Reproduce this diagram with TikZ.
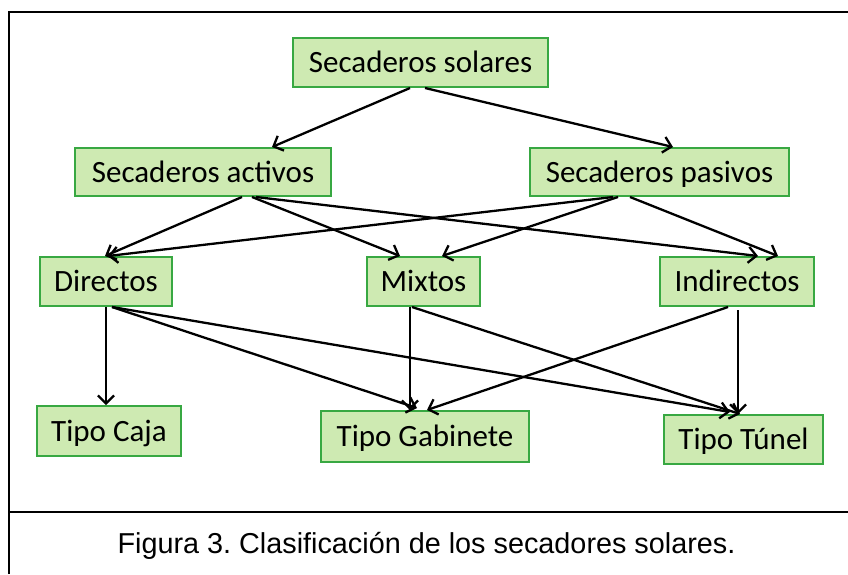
\documentclass[tikz,border=0pt]{standalone}
\usepackage{fontspec}
\setmainfont{Carlito}
\newfontfamily\capfont{Liberation Sans}
\usetikzlibrary{arrows.meta,calc}
\definecolor{boxfill}{RGB}{206,234,178}
\definecolor{boxline}{RGB}{56,168,66}
\tikzset{
  box/.style={draw=boxline, fill=boxfill, line width=2.4pt, inner sep=0pt,
    font=\fontsize{31}{31}\selectfont, text height=20pt, text depth=0pt, anchor=center},
  conn/.style={line width=2.3pt, -{Straight Barb[length=8pt,width=16pt]}},
  frame/.style={line width=2.8pt}
}
\begin{document}
\frenchspacing
\begin{tikzpicture}[x=1pt,y=-1pt]
\useasboundingbox (0,0) rectangle (848,574);
% frame
\coordinate (ftl) at (9,12);
\coordinate (ftr) at (848,12);
\coordinate (fbl) at (9,574);
\coordinate (fsl) at (9,512);
\coordinate (fsr) at (848,512);
\draw[frame] (fbl) -- (ftl) -- (ftr);
\draw[frame] (fsl) -- (fsr);
% nodes
\node[box, minimum width=254.6pt, minimum height=48.6pt] (solares) at (420.5,62.5) {Secaderos solares};
\node[box, minimum width=255.6pt, minimum height=47.6pt] (activos) at (203,172) {Secaderos activos};
\node[box, minimum width=258.6pt, minimum height=47.6pt] (pasivos) at (659.5,172) {Secaderos pasivos};
\node[box, minimum width=131.6pt, minimum height=48.6pt] (directos) at (106,281.5) {Directos};
\node[box, minimum width=112.6pt, minimum height=48.6pt] (mixtos) at (423.5,281.5) {Mixtos};
\node[box, minimum width=153.6pt, minimum height=48.6pt] (indirectos) at (737,281.5) {Indirectos};
\node[box, minimum width=143.6pt, minimum height=49.6pt] (caja) at (109,431) {Tipo Caja};
\node[box, minimum width=207.6pt, minimum height=50.6pt] (gabinete) at (425,436.5) {Tipo Gabinete};
\node[box, minimum width=158.6pt, minimum height=48.6pt] (tunel) at (743.5,439.5) {Tipo Túnel};
% caption
\node[font=\capfont\fontsize{28.8}{30}\selectfont, anchor=base] (cap) at (426.5,553) {Figura 3. Clasificación de los secadores solares.};
% connectors
\draw[conn] ($(solares.south)+(-10.5,0)$) -- ($(activos.north)+(69,0)$);
\draw[conn] ($(solares.south)+(4.5,0)$) -- ($(pasivos.north)+(13.5,0)$);
\draw[conn] ($(activos.south)+(39,0)$) -- ($(directos.north)+(-1,0)$);
\draw[conn] ($(activos.south)+(49,0)$) -- ($(mixtos.north)+(-23.5,0)$);
\draw[conn] ($(activos.south)+(53,0)$) -- ($(indirectos.north)+(21,0)$);
\draw[conn] ($(pasivos.south)+(-46.5,0)$) -- ($(directos.north)+(2,0)$);
\draw[conn] ($(pasivos.south)+(-41.5,0)$) -- ($(mixtos.north)+(18.5,0)$);
\draw[conn] ($(pasivos.south)+(-29.5,0)$) -- ($(indirectos.north)+(41,0)$);
\draw[conn] ($(directos.south)+(0,0)$) -- ($(caja.north)+(-3,0)$);
\draw[conn] ($(directos.south)+(6,0)$) -- ($(gabinete.north)+(-8,-2)$);
\draw[conn] ($(directos.south)+(6,0)$) -- ($(tunel.north)+(-13.5,-2)$);
\draw[conn] ($(mixtos.south)+(-13.5,0)$) -- ($(gabinete.north)+(-15,0)$);
\draw[conn] ($(mixtos.south)+(-11.5,0)$) -- ($(tunel.north)+(-3.5,0)$);
\draw[conn] ($(indirectos.south)+(-9,0)$) -- ($(gabinete.north)+(2,0)$);
\draw[conn] ($(indirectos.south)+(1,3)$) -- ($(tunel.north)+(-5.5,0)$);
\end{tikzpicture}
\end{document}
